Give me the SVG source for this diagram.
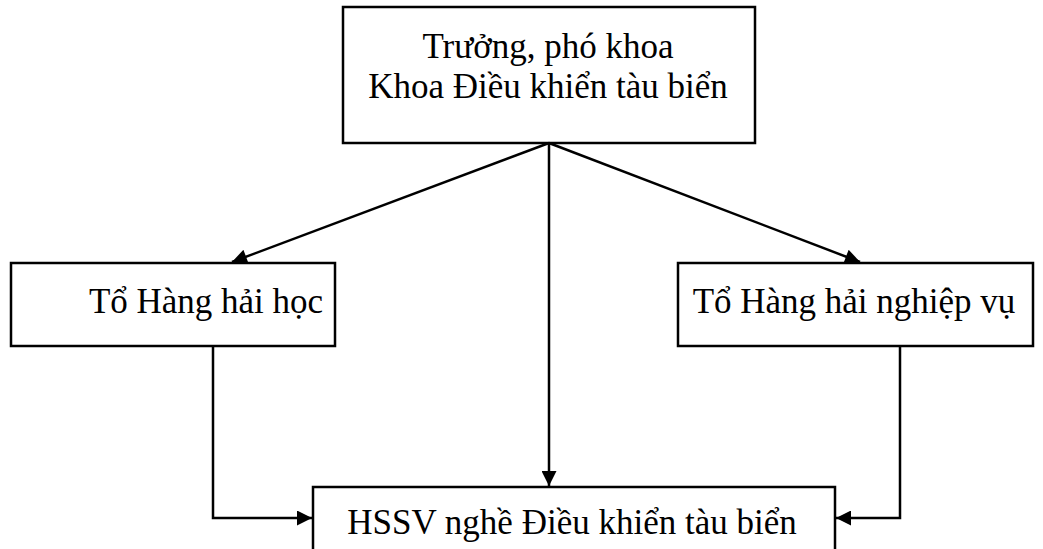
<svg xmlns="http://www.w3.org/2000/svg" width="1043" height="549" viewBox="0 0 1043 549">
<style>
.box{fill:#fff;stroke:#000;stroke-width:2.5}
.t{font-family:"Liberation Serif","Times New Roman",serif;font-size:35px;fill:#000;text-anchor:middle}
.c{fill:none;stroke:#000;stroke-width:2.5}
</style>
<defs>
<marker id="ah" viewBox="0 0 10 10" refX="10" refY="5" markerWidth="7.5" markerHeight="6" markerUnits="strokeWidth" orient="auto">
<path d="M0,0 L10,5 L0,10 z" fill="#000"/>
</marker>
</defs>
<rect width="1043" height="549" fill="#fff"/>
<g id="top">
<rect class="box" x="343" y="7" width="412" height="136"/>
<text class="t" x="548" y="58">Trưởng, phó khoa</text>
<text class="t" x="548" y="98">Khoa Điều khiển tàu biển</text>
</g>
<g id="left">
<rect class="box" x="11" y="263" width="324" height="83"/>
<text class="t" x="206" y="313">Tổ Hàng hải học</text>
</g>
<g id="right">
<rect class="box" x="678" y="263" width="355" height="83"/>
<text class="t" x="854" y="313">Tổ Hàng hải nghiệp vụ</text>
</g>
<g id="bottom">
<rect class="box" x="313" y="487" width="522" height="80"/>
<text class="t" x="572" y="534">HSSV nghề Điều khiển tàu biển</text>
</g>
<g id="connectors">
<line class="c" x1="549" y1="143" x2="232" y2="262" marker-end="url(#ah)"/>
<line class="c" x1="549" y1="143" x2="860" y2="262" marker-end="url(#ah)"/>
<line class="c" x1="549" y1="143" x2="549" y2="486" marker-end="url(#ah)"/>
<polyline class="c" points="213,346 213,518 312,518" marker-end="url(#ah)"/>
<polyline class="c" points="900,346 900,518 836,518" marker-end="url(#ah)"/>
</g>
</svg>
